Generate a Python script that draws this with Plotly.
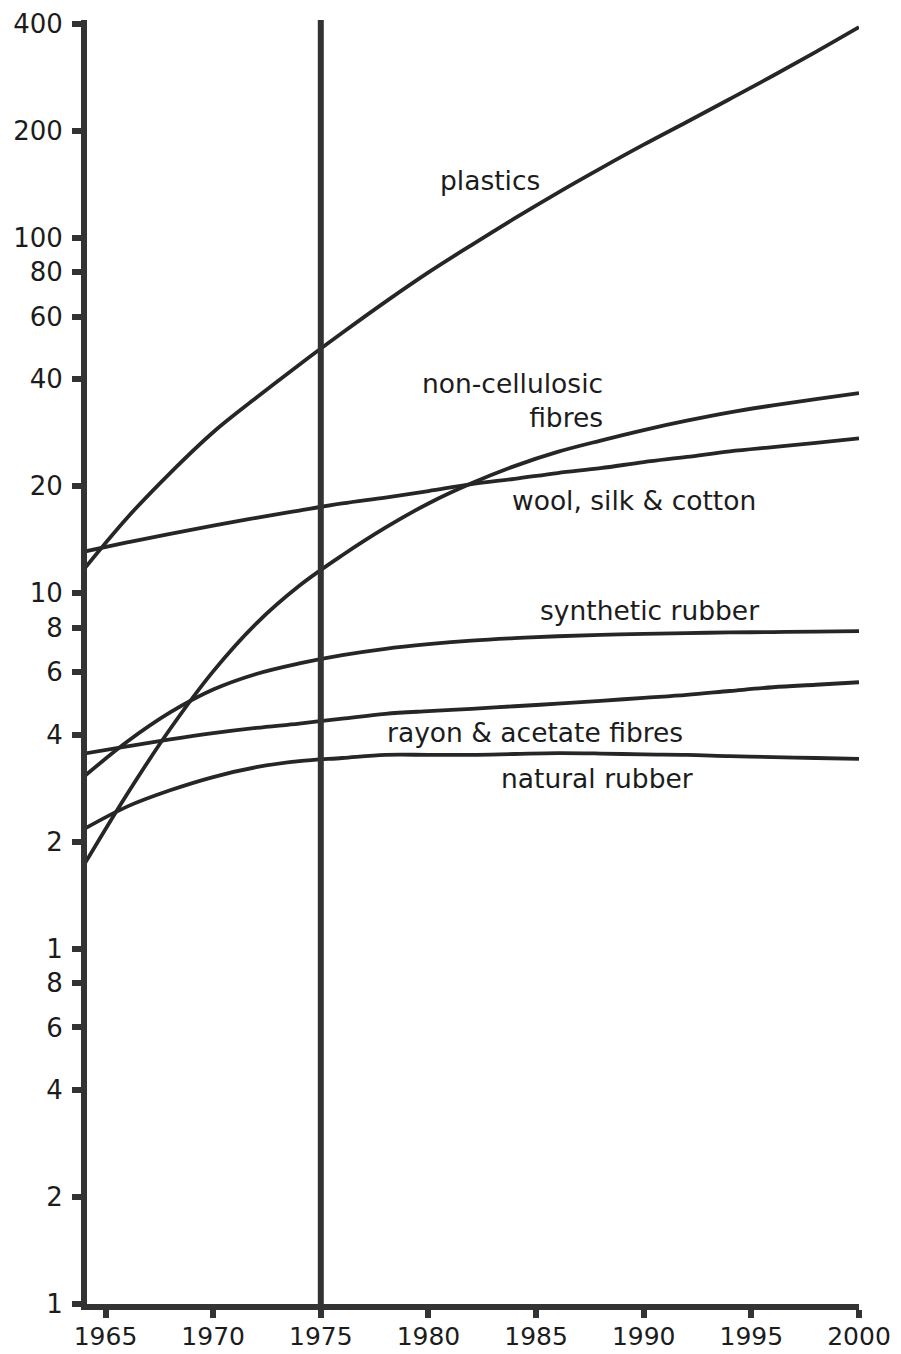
import numpy as np
import plotly.graph_objects as go

# Years at which each series is sampled
years = list(range(1964, 2001, 2))

# Production index values (log scale)
plastics = [11.7, 16.3, 21.8, 28.4, 35.5, 44.0, 54.1, 66.1, 80.0, 95.5, 113.5, 134, 157,
            183, 212, 246, 286, 334, 392]
wool_silk_cotton = [13.1, 13.9, 14.7, 15.5, 16.3, 17.1, 17.9, 18.6, 19.4, 20.3, 21.0, 21.8,
                    22.5, 23.4, 24.2, 25.1, 25.8, 26.5, 27.3]
non_cellulosic = [1.72, 2.72, 4.15, 6.03, 8.22, 10.5, 12.8, 15.3, 17.9, 20.4, 22.8, 25.0,
                  26.9, 28.8, 30.6, 32.3, 33.8, 35.2, 36.6]
synthetic_rubber = [3.05, 3.82, 4.62, 5.36, 5.93, 6.35, 6.70, 6.98, 7.19, 7.36, 7.48, 7.57,
                    7.64, 7.69, 7.73, 7.76, 7.78, 7.80, 7.83]
rayon_acetate = [3.54, 3.71, 3.88, 4.04, 4.18, 4.30, 4.44, 4.58, 4.66, 4.73, 4.81, 4.89,
                 4.98, 5.08, 5.18, 5.31, 5.44, 5.53, 5.62]
natural_rubber = [2.17, 2.51, 2.79, 3.04, 3.24, 3.37, 3.44, 3.51, 3.51, 3.51, 3.53, 3.55,
                  3.54, 3.52, 3.51, 3.48, 3.46, 3.44, 3.42]

# Axis ticks
x_ticks = [1965, 1970, 1975, 1980, 1985, 1990, 1995, 2000]
y_tickvals = [0.1, 0.2, 0.4, 0.6, 0.8, 1, 2, 4, 6, 8, 10, 20, 40, 60, 80, 100, 200, 400]
y_ticktext = ["1", "2", "4", "6", "8", "1", "2", "4", "6", "8", "10", "20", "40", "60", "80",
              "100", "200", "400"]

# Series labels and where they sit (year, value)
labels = ["plastics", "non-cellulosic<br>fibres", "wool, silk & cotton",
          "synthetic rubber", "rayon & acetate fibres", "natural rubber"]
label_x = [1980.45, 1988.2, 1983.8, 1985.1, 1978.0, 1983.28]
label_y = [145.5, 34.9, 18.3, 8.97, 4.07, 3.02]
label_xanchor = ["left", "right", "left", "left", "left", "left"]

INK = "#262626"
TEXT = "#1c1c1c"
FONT = "DejaVu Sans"

fig = go.Figure()
for series in [plastics, wool_silk_cotton, non_cellulosic, synthetic_rubber,
               rayon_acetate, natural_rubber]:
    fig.add_trace(go.Scatter(
        x=years, y=series, mode="lines",
        line=dict(color=INK, width=3.8, shape="spline", smoothing=1.0),
        showlegend=False, hoverinfo="skip",
    ))

# vertical marker at 1975
fig.add_shape(type="line", xref="x", yref="paper", x0=1975, x1=1975, y0=0, y1=1,
              line=dict(color="#333333", width=6))

for text, lx, ly, xa in zip(labels, label_x, label_y, label_xanchor):
    fig.add_annotation(
        x=lx, y=np.log10(ly), xref="x", yref="y", text=text, showarrow=False,
        xanchor=xa, yanchor="middle", align="right" if xa == "right" else "left",
        font=dict(family=FONT, size=26.5, color=TEXT),
    )

fig.update_xaxes(
    range=[1964.14, 2000], tickvals=x_ticks, ticktext=[str(v) for v in x_ticks],
    ticks="outside", ticklen=8, tickwidth=6, tickcolor="#333333",
    ticklabelstandoff=-3, automargin=False,
    showline=True, linewidth=6, linecolor="#333333",
    showgrid=False, zeroline=False,
    tickfont=dict(family=FONT, size=25, color=TEXT),
)
fig.update_yaxes(
    type="log", range=[-1, np.log10(400) + 0.0113],
    tickvals=y_tickvals, ticktext=y_ticktext,
    ticks="outside", ticklen=9, tickwidth=6, tickcolor="#333333",
    ticklabelstandoff=4, automargin=False,
    showline=True, linewidth=6, linecolor="#333333",
    showgrid=False, zeroline=False,
    tickfont=dict(family=FONT, size=26, color=TEXT),
)
fig.update_layout(
    width=901, height=1354,
    margin=dict(l=87, r=42, t=20, b=50),
    paper_bgcolor="white", plot_bgcolor="white",
)
fig.write_html("out.html")
